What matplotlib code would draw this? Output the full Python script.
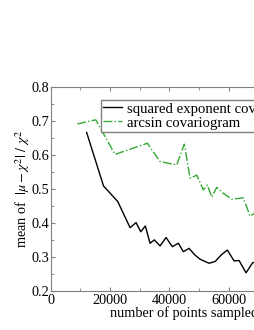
import matplotlib
matplotlib.use("Agg")
import matplotlib.pyplot as plt
from matplotlib.ticker import MultipleLocator

plt.rcParams["font.family"] = ["Liberation Serif", "DejaVu Serif"]
plt.rcParams["mathtext.fontset"] = "stix"

# values
sq_exp_x = [12100, 17800, 22600, 23950, 26750, 28770, 30350, 31900, 33490, 34940,
            36860, 38890, 41010, 43040, 44720, 46640, 48670, 50350, 53390, 55410,
            57670, 59560, 61820, 63510, 65870, 68130, 70000]
sq_exp_y = [0.667, 0.509, 0.463, 0.438, 0.386, 0.401, 0.374, 0.391, 0.340, 0.350,
            0.332, 0.357, 0.330, 0.340, 0.315, 0.325, 0.305, 0.293, 0.281, 0.286,
            0.307, 0.320, 0.288, 0.289, 0.253, 0.283, 0.285]

arcsin_x = [8970, 15180, 21690, 32580, 36860, 42490, 45060, 46980, 49240, 51470,
            52830, 54300, 55990, 58220, 61040, 64970, 67220, 70000]
arcsin_y = [0.692, 0.704, 0.602, 0.635, 0.581, 0.571, 0.632, 0.532, 0.541, 0.497,
            0.512, 0.476, 0.505, 0.487, 0.470, 0.474, 0.420, 0.435]

labels = ["squared exponent covariogram", "arcsin covariogram"]

fs = 10.3

fig = plt.figure(figsize=(2.55, 3.30), dpi=100)
# the axes run past the right edge of the picture, as in the reference
ax = fig.add_axes([0.199, 0.119, 1.0465, 0.6165])

ax.plot(sq_exp_x, sq_exp_y, color="k", lw=1.0, label=labels[0])
ax.plot(arcsin_x, arcsin_y, color="#33aa33", lw=1.0, ls="-.", label=labels[1])

ax.set_xlim(0, 90000)
ax.set_ylim(0.2, 0.8)
ax.xaxis.set_major_locator(MultipleLocator(20000))
ax.xaxis.set_minor_locator(MultipleLocator(10000))
ax.yaxis.set_major_locator(MultipleLocator(0.1))
ax.yaxis.set_minor_locator(MultipleLocator(0.05))
ax.tick_params(which="both", direction="in", top=True, right=False,
               color="#808080", labelsize=fs)
ax.tick_params(axis="y", pad=1.0)
ax.tick_params(axis="x", pad=2.5)
ax.tick_params(which="major", length=3)
ax.tick_params(which="minor", length=2)
for side in ["left", "bottom", "top"]:
    ax.spines[side].set_color("#808080")
ax.spines["right"].set_visible(False)

ax.set_xlabel("number of points sampled", fontsize=fs, labelpad=-1)
ax.set_ylabel(r"mean of  $|\mu-\chi^2|\ /\ \chi^2$", fontsize=fs, labelpad=0)

leg = fig.legend(loc="upper left", bbox_to_anchor=(0.396, 0.697), fontsize=10.6,
                 fancybox=False, framealpha=1, edgecolor="#808080",
                 handlelength=1.3, handletextpad=0.3, labelspacing=0.05,
                 borderpad=0.15, borderaxespad=0)
leg.get_frame().set_linewidth(1.0)

fig.savefig("out.png", dpi=100)
